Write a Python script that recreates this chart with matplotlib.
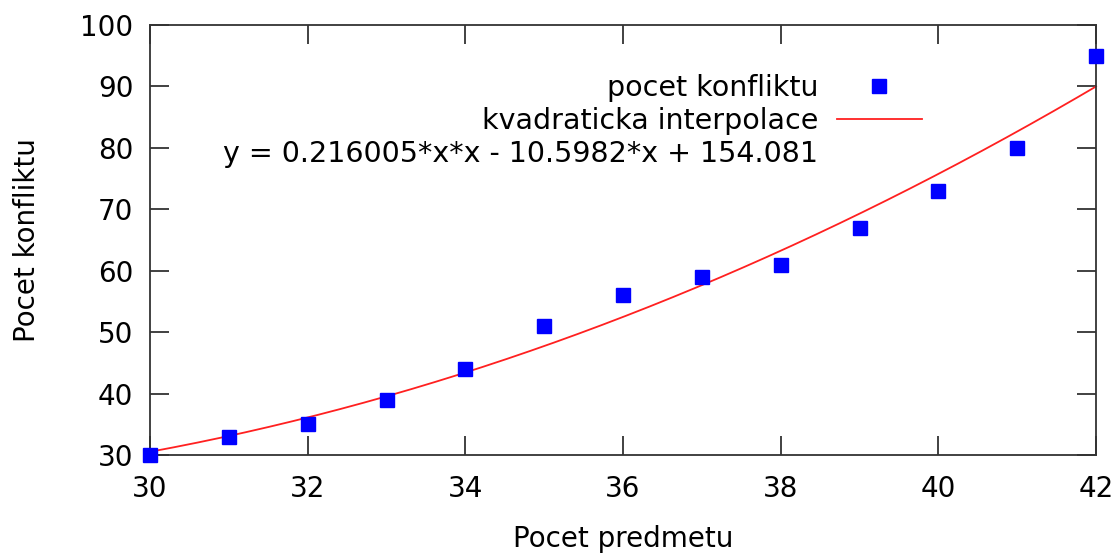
import numpy as np
import matplotlib.pyplot as plt
from matplotlib.lines import Line2D

# namerene hodnoty
predmety = [30, 31, 32, 33, 34, 35, 36, 37, 38, 39, 40, 41, 42]
konflikty = [30, 33, 35, 39, 44, 51, 56, 59, 61, 67, 73, 80, 95]
# koeficienty kvadraticke interpolace (z popisku grafu)
koef = [0.216005, -10.5982, 154.081]

plt.rcParams['font.family'] = ['DejaVu Sans']
fs = 20

fig = plt.figure(figsize=(11.2, 5.55), dpi=100)
ax = fig.add_axes([0.134, 0.18, 0.8446, 0.775])

xs = np.linspace(predmety[0], predmety[-1], 200)
ax.plot(xs, np.polyval(koef, xs), color='#ff2020', lw=1.3, zorder=2, clip_on=False)
ax.plot(predmety, konflikty, 's', color='#0000ff', ms=9.5, zorder=3, clip_on=False)

ax.set_xlim(30, 42)
ax.set_ylim(30, 100)
ax.set_xticks(range(30, 43, 2))
ax.set_yticks(range(30, 101, 10))
ax.tick_params(direction='in', length=14, width=1.3, labelsize=fs,
               top=True, right=True, color='#333333')
ax.tick_params(axis='x', pad=14)
ax.tick_params(axis='y', pad=12)
for s in ax.spines.values():
    s.set_color('#333333')
    s.set_linewidth(1.3)

ax.set_xlabel('Pocet predmetu', fontsize=fs, labelpad=16)
ax.set_ylabel('Pocet konfliktu', fontsize=fs, labelpad=28)

handles = [Line2D([], [], ls='none', marker='s', color='#0000ff', ms=9.5),
           Line2D([], [], color='#ff2020', lw=1.3),
           Line2D([], [], ls='none')]
labels = ['pocet konfliktu', 'kvadraticka interpolace',
          'y = 0.216005*x*x - 10.5982*x + 154.081']
leg = ax.legend(handles, labels, loc='upper right', bbox_to_anchor=(0.816, 0.885),
                frameon=False, markerfirst=False, fontsize=20.5, handlelength=3.0,
                handletextpad=0.65, labelspacing=0.17, borderaxespad=0, borderpad=0)
for col in leg._legend_handle_box.get_children():
    col.align = 'right'

fig.savefig('out.png', dpi=100)
